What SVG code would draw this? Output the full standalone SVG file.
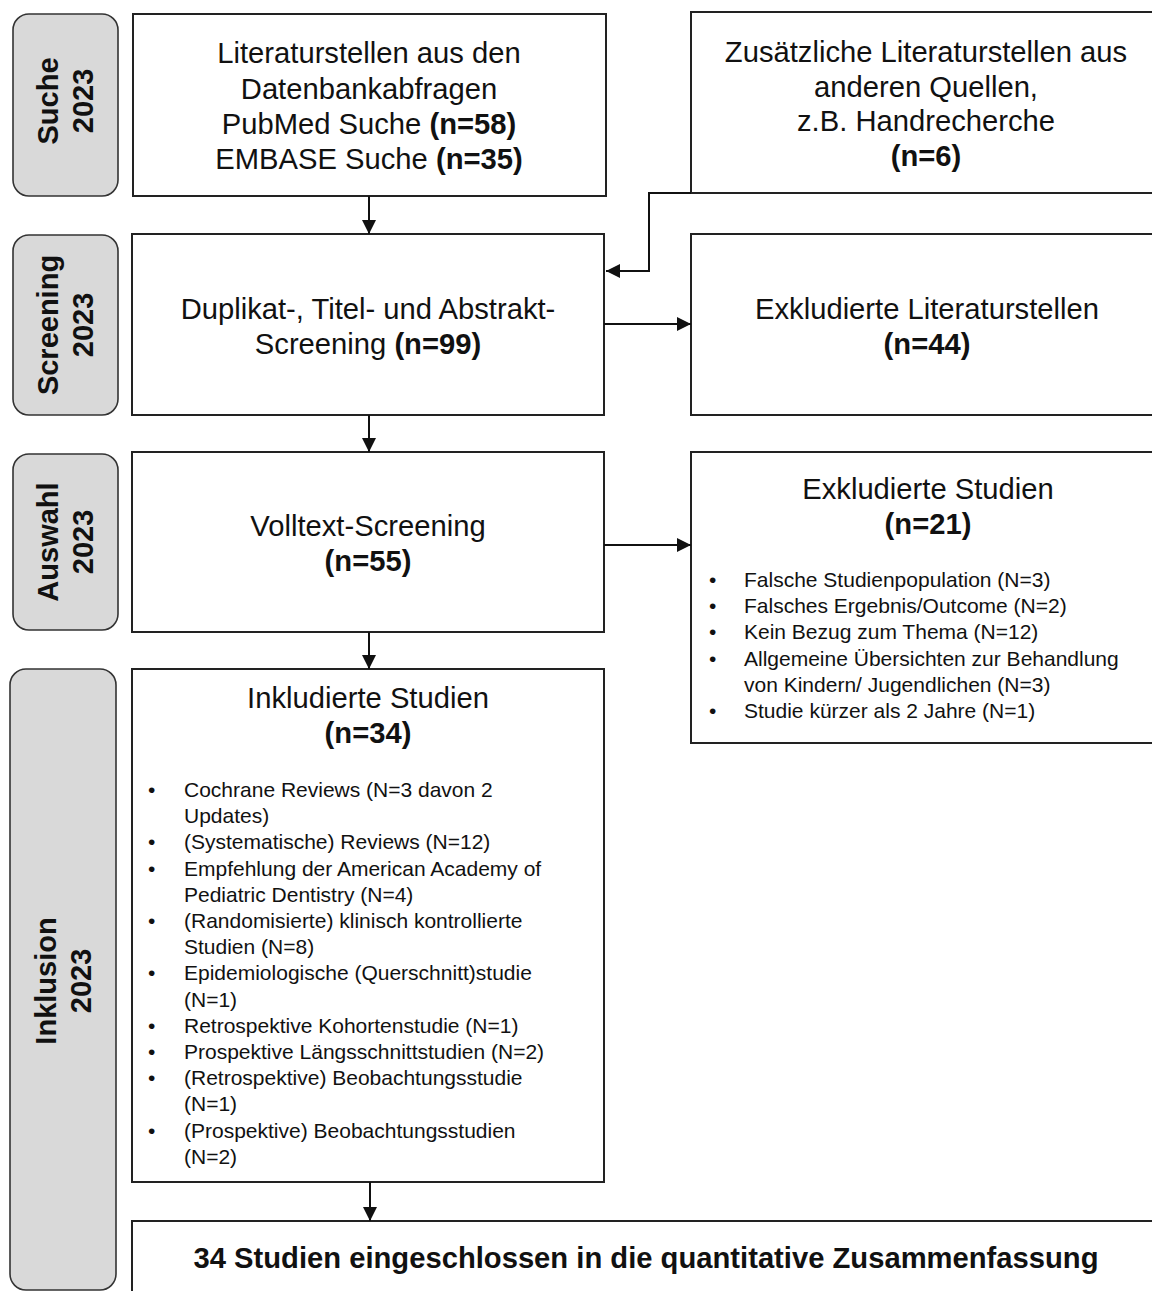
<svg xmlns="http://www.w3.org/2000/svg" width="1152" height="1291" viewBox="0 0 1152 1291">
<style>
  .box { fill: #ffffff; stroke: #222222; stroke-width: 2; }
  .side { fill: #d9d9d9; stroke: #333333; stroke-width: 1.6; }
  .t { font-family: "Liberation Sans", Arial, sans-serif; font-size: 29.2px; fill: #111111; text-anchor: middle; }
  .sl { font-family: "Liberation Sans", Arial, sans-serif; font-size: 29px; font-weight: bold; fill: #111111; text-anchor: middle; }
  .b { font-weight: bold; }
  .li { font-family: "Liberation Sans", Arial, sans-serif; font-size: 21px; fill: #111111; }
  .conn { fill: none; stroke: #111111; stroke-width: 2; }
</style>
<defs>
  <marker id="arr" markerUnits="userSpaceOnUse" markerWidth="16" markerHeight="16" refX="14" refY="8" orient="auto">
    <path d="M0,1 L14,8 L0,15 Z" fill="#111111"/>
  </marker>
</defs>
<rect width="1152" height="1291" fill="#ffffff"/>

<g id="label-suche">
  <rect class="side" x="13" y="14" width="105" height="182" rx="16"/>
  <g transform="translate(66,101) rotate(-90)">
    <text class="sl" x="0" y="-8">Suche</text>
    <text class="sl" x="0" y="27">2023</text>
  </g>
</g>
<g id="label-screening">
  <rect class="side" x="13" y="235" width="105" height="180" rx="16"/>
  <g transform="translate(66,325) rotate(-90)">
    <text class="sl" x="0" y="-8">Screening</text>
    <text class="sl" x="0" y="27">2023</text>
  </g>
</g>
<g id="label-auswahl">
  <rect class="side" x="13" y="454" width="105" height="176" rx="16"/>
  <g transform="translate(66,542) rotate(-90)">
    <text class="sl" x="0" y="-8">Auswahl</text>
    <text class="sl" x="0" y="27">2023</text>
  </g>
</g>
<g id="label-inklusion">
  <rect class="side" x="10" y="669" width="106" height="621" rx="16"/>
  <g transform="translate(64,981) rotate(-90)">
    <text class="sl" x="0" y="-8">Inklusion</text>
    <text class="sl" x="0" y="27">2023</text>
  </g>
</g>

<g id="node-datenbank">
  <rect class="box" x="133" y="14" width="473" height="182"/>
  <text class="t" x="369" y="63">Literaturstellen aus den</text>
  <text class="t" x="369" y="99">Datenbankabfragen</text>
  <text class="t" x="369" y="134">PubMed Suche <tspan class="b">(n=58)</tspan></text>
  <text class="t" x="369" y="169">EMBASE Suche <tspan class="b">(n=35)</tspan></text>
</g>
<g id="node-zusaetzlich">
  <rect class="box" x="691" y="12" width="480" height="181"/>
  <text class="t" x="926" y="62">Zusätzliche Literaturstellen aus</text>
  <text class="t" x="926" y="97">anderen Quellen,</text>
  <text class="t" x="926" y="131">z.B. Handrecherche</text>
  <text class="t b" x="926" y="166">(n=6)</text>
</g>
<g id="node-screening">
  <rect class="box" x="132" y="234" width="472" height="181"/>
  <text class="t" x="368" y="319">Duplikat-, Titel- und Abstrakt-</text>
  <text class="t" x="368" y="354">Screening <tspan class="b">(n=99)</tspan></text>
</g>
<g id="node-exkl-literatur">
  <rect class="box" x="691" y="234" width="480" height="181"/>
  <text class="t" x="927" y="319">Exkludierte Literaturstellen</text>
  <text class="t b" x="927" y="354">(n=44)</text>
</g>
<g id="node-volltext">
  <rect class="box" x="132" y="452" width="472" height="180"/>
  <text class="t" x="368" y="536">Volltext-Screening</text>
  <text class="t b" x="368" y="571">(n=55)</text>
</g>
<g id="node-exkl-studien">
  <rect class="box" x="691" y="452" width="480" height="291"/>
  <text class="t" x="928" y="499">Exkludierte Studien</text>
  <text class="t b" x="928" y="534">(n=21)</text>
  <g class="li">
    <text x="709" y="587">•</text><text x="744" y="587">Falsche Studienpopulation (N=3)</text>
    <text x="709" y="613">•</text><text x="744" y="613">Falsches Ergebnis/Outcome (N=2)</text>
    <text x="709" y="639">•</text><text x="744" y="639">Kein Bezug zum Thema (N=12)</text>
    <text x="709" y="666">•</text><text x="744" y="666">Allgemeine Übersichten zur Behandlung</text>
    <text x="744" y="692">von Kindern/ Jugendlichen (N=3)</text>
    <text x="709" y="718">•</text><text x="744" y="718">Studie kürzer als 2 Jahre (N=1)</text>
  </g>
</g>
<g id="node-inkludiert">
  <rect class="box" x="132" y="669" width="472" height="513"/>
  <text class="t" x="368" y="708">Inkludierte Studien</text>
  <text class="t b" x="368" y="743">(n=34)</text>
  <g class="li">
    <text x="148" y="797">•</text><text x="184" y="797">Cochrane Reviews (N=3 davon 2</text>
    <text x="184" y="823">Updates)</text>
    <text x="148" y="849">•</text><text x="184" y="849">(Systematische) Reviews (N=12)</text>
    <text x="148" y="876">•</text><text x="184" y="876">Empfehlung der American Academy of</text>
    <text x="184" y="902">Pediatric Dentistry (N=4)</text>
    <text x="148" y="928">•</text><text x="184" y="928">(Randomisierte) klinisch kontrollierte</text>
    <text x="184" y="954">Studien (N=8)</text>
    <text x="148" y="980">•</text><text x="184" y="980">Epidemiologische (Querschnitt)studie</text>
    <text x="184" y="1007">(N=1)</text>
    <text x="148" y="1033">•</text><text x="184" y="1033">Retrospektive Kohortenstudie (N=1)</text>
    <text x="148" y="1059">•</text><text x="184" y="1059">Prospektive Längsschnittstudien (N=2)</text>
    <text x="148" y="1085">•</text><text x="184" y="1085">(Retrospektive) Beobachtungsstudie</text>
    <text x="184" y="1111">(N=1)</text>
    <text x="148" y="1138">•</text><text x="184" y="1138">(Prospektive) Beobachtungsstudien</text>
    <text x="184" y="1164">(N=2)</text>
  </g>
</g>
<g id="node-final">
  <rect class="box" x="132" y="1221" width="1040" height="100"/>
  <text class="t b" x="646" y="1268">34 Studien eingeschlossen in die quantitative Zusammenfassung</text>
</g>

<g id="connectors">
  <line class="conn" x1="369" y1="196" x2="369" y2="234" marker-end="url(#arr)"/>
  <path class="conn" d="M691,193 H649 V271 H606" marker-end="url(#arr)"/>
  <line class="conn" x1="604" y1="324" x2="691" y2="324" marker-end="url(#arr)"/>
  <line class="conn" x1="369" y1="415" x2="369" y2="452" marker-end="url(#arr)"/>
  <line class="conn" x1="604" y1="545" x2="691" y2="545" marker-end="url(#arr)"/>
  <line class="conn" x1="369" y1="632" x2="369" y2="669" marker-end="url(#arr)"/>
  <line class="conn" x1="370" y1="1182" x2="370" y2="1221" marker-end="url(#arr)"/>
</g>
</svg>
